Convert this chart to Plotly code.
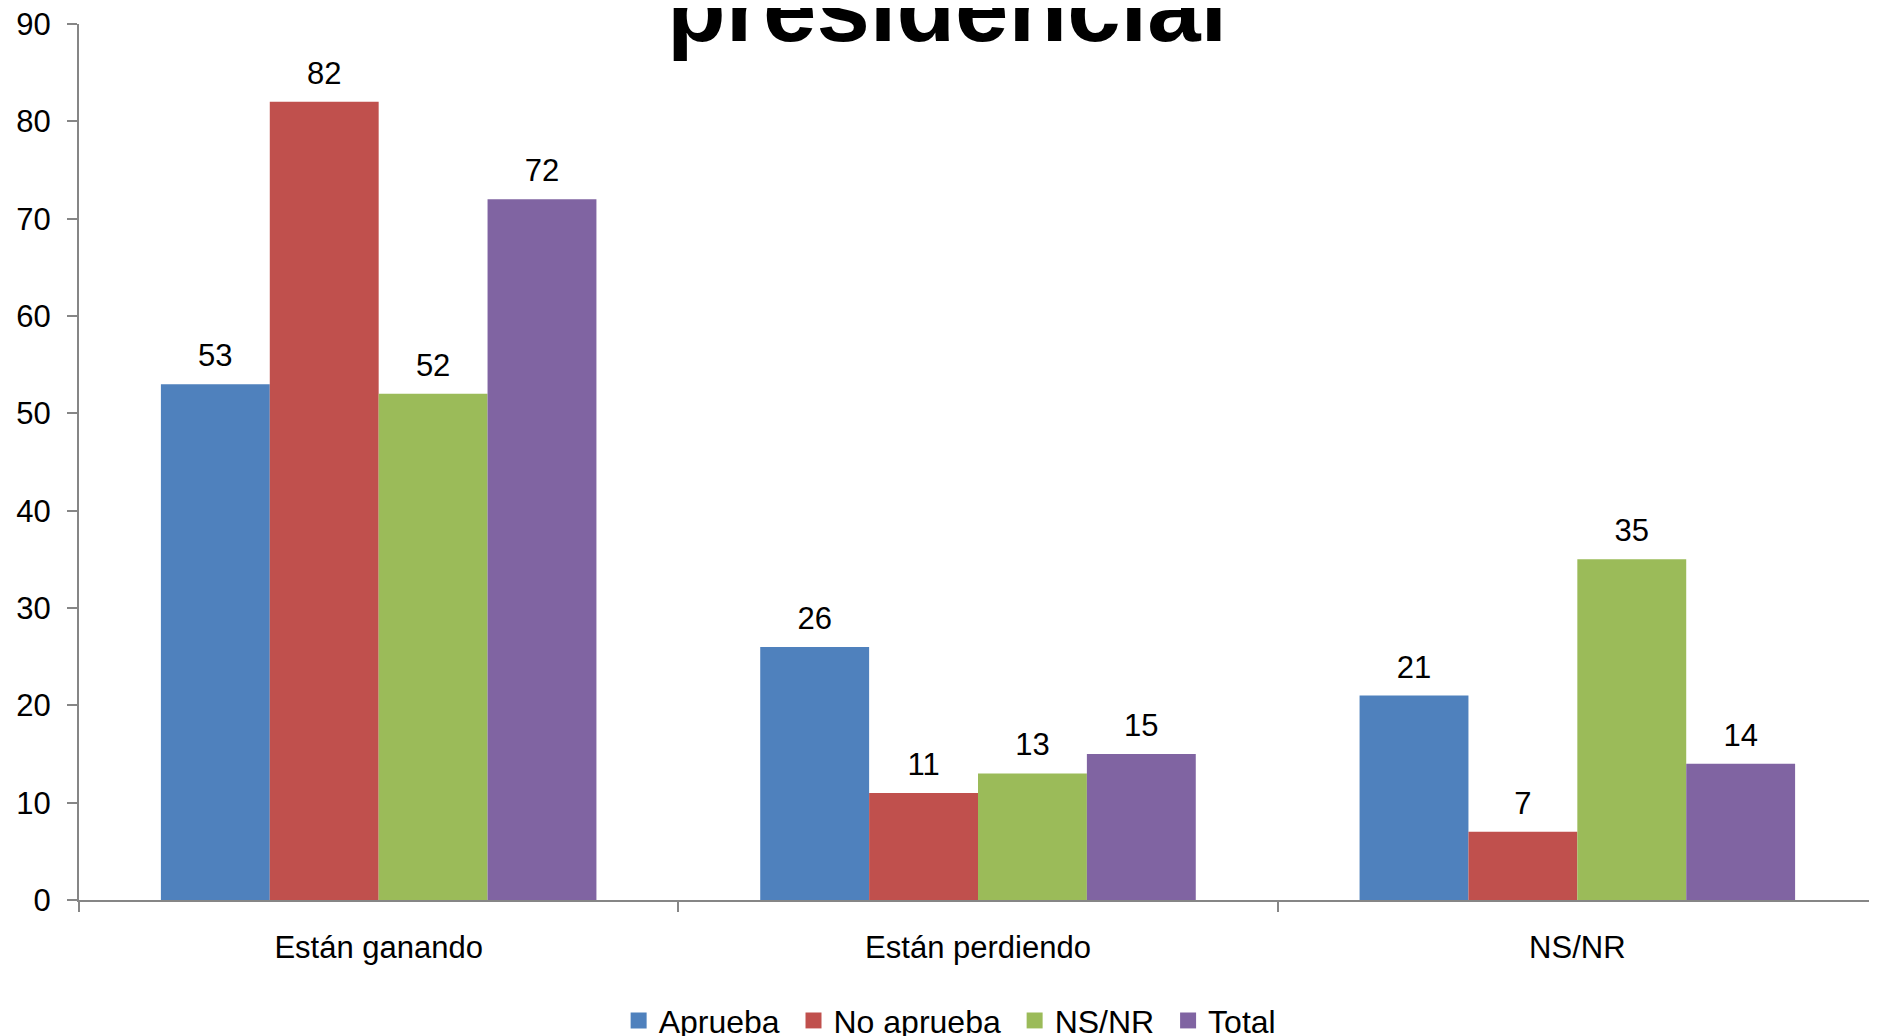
import plotly.graph_objects as go

categories = ["Están ganando", "Están perdiendo", "NS/NR"]
series_names = ["Aprueba", "No aprueba", "NS/NR", "Total"]
aprueba = [53, 26, 21]
no_aprueba = [82, 11, 7]
nsnr = [52, 13, 35]
total = [72, 15, 14]
series_values = [aprueba, no_aprueba, nsnr, total]
colors = ["#4F81BD", "#C0504D", "#9BBB59", "#8064A2"]
y_ticks = [0, 10, 20, 30, 40, 50, 60, 70, 80, 90]

FONT = "Liberation Sans, Arial, sans-serif"
AXIS = "#868686"

fig = go.Figure()
label_tpl = ("<span style='font-size:31px'>%{y}</span><br>"
             "<span style='font-size:10px;color:rgba(0,0,0,0)'>.</span>")
for name, vals, col in zip(series_names, series_values, colors):
    fig.add_trace(go.Bar(
        x=categories, y=vals, name=name, marker_color=col,
        marker_line_width=0,
        texttemplate=label_tpl, textposition="outside",
        textfont=dict(family=FONT, size=10, color="black"),
        cliponaxis=False, showlegend=False,
    ))
# legend entries with larger square swatches
for i, (name, col) in enumerate(zip(series_names, colors)):
    label = name + ("\u00a0" if i < len(series_names) - 1 else "")
    fig.add_trace(go.Scatter(
        x=[None], y=[None], mode="markers", name=label,
        marker=dict(symbol="square", size=17, color=col),
        showlegend=True,
    ))

fig.add_annotation(
    text="<b>presidencial</b>", xref="paper", yref="paper",
    x=0.4828, y=0.9555, xanchor="center", yanchor="bottom",
    showarrow=False, font=dict(family=FONT, size=96, color="black"),
)

fig.update_layout(
    width=1877, height=1036,
    margin=dict(l=71, r=8, t=16, b=144, autoexpand=False),
    paper_bgcolor="white", plot_bgcolor="white",
    barmode="group", bargap=0.2733, bargroupgap=0,
    font=dict(family=FONT, size=31, color="black"),
    legend=dict(orientation="h", x=0.4845, xanchor="center", y=-0.1063,
                yanchor="top", font=dict(family=FONT, size=32, color="black"),
                bgcolor="rgba(0,0,0,0)", borderwidth=0),
    xaxis=dict(showline=True, linecolor=AXIS, linewidth=2,
               ticks="outside", tickson="boundaries", ticklen=10,
               tickcolor=AXIS, tickwidth=2, showgrid=False,
               ticklabelstandoff=19,
               tickfont=dict(family=FONT, size=31, color="black")),
    yaxis=dict(range=[0, 90], tickvals=y_ticks, showline=True,
               linecolor=AXIS, linewidth=2, ticks="outside", ticklen=10,
               tickcolor=AXIS, tickwidth=2, showgrid=False, zeroline=False,
               ticklabelstandoff=10, ticklabeloverflow="allow",
               tickfont=dict(family=FONT, size=31, color="black")),
)

fig.write_html("out.html")
